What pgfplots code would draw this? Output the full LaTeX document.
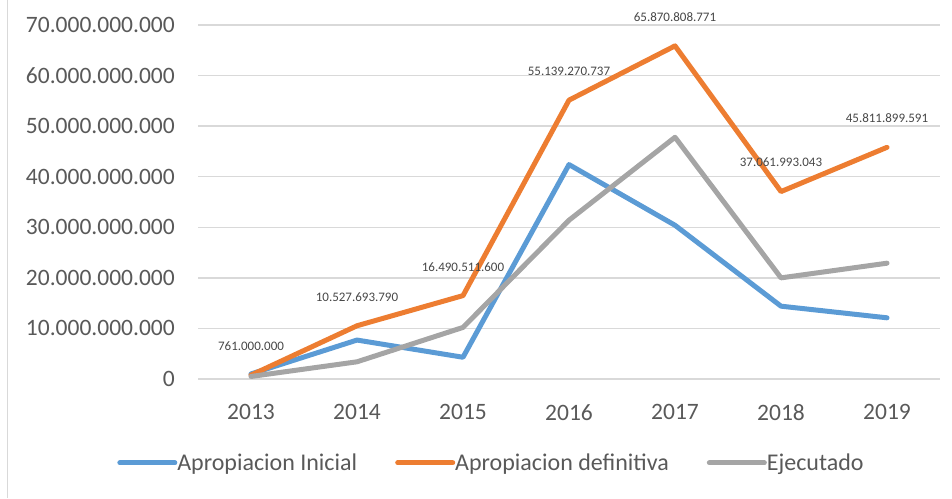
\documentclass[border=0pt]{standalone}
\usepackage{fontspec}
\setmainfont{Carlito}
\usepackage{pgfplots}
\pgfplotsset{compat=1.18}
\definecolor{cblue}{HTML}{5B9BD5}
\definecolor{corange}{HTML}{ED7D31}
\definecolor{cgray}{HTML}{A5A5A5}
\definecolor{ctext}{HTML}{595959}
\definecolor{cgrid}{HTML}{D9D9D9}
\begin{document}
\begin{tikzpicture}[x=1pt,y=1pt]
\path[use as bounding box] (0,0) rectangle (952,498);
\draw[cgrid, line width=1.5pt] (7.5,0) -- (7.5,498);
\begin{axis}[
    at={(198pt,119pt)}, anchor=south west,
    scale only axis,
    width=742pt, height=354pt,
    xmin=2012.5, xmax=2019.5,
    ymin=0, ymax=70000000000,
    xtick={2013,2014,2015,2016,2017,2018,2019},
    xticklabels={2013,2014,2015,2016,2017,2018,2019},
    ytick={0,10000000000,20000000000,30000000000,40000000000,50000000000,60000000000,70000000000},
    yticklabels={0,10.000.000.000,20.000.000.000,30.000.000.000,40.000.000.000,50.000.000.000,60.000.000.000,70.000.000.000},
    scaled y ticks=false,
    axis line style={draw=none},
    major tick length=0pt,
    ymajorgrids,
    grid style={cgrid, line width=1.5pt},
    tick label style={font=\fontsize{23.5}{28}\selectfont, text=ctext, inner sep=0pt},
    yticklabel style={anchor=east, xshift=-23pt},
    xticklabel style={anchor=north, yshift=-25pt},
    clip=false,
    legend columns=3,
    legend style={at={(-0.109,-0.237)}, anchor=west, draw=none, fill=none, inner sep=0pt,
        font=\fontsize{24}{28}\selectfont, text=ctext,
        /tikz/every even column/.append style={column sep=38pt},
        nodes={inner sep=0pt}},
    legend image code/.code={\draw[#1] (0pt,0pt) -- (55pt,0pt);},
    every axis plot/.append style={line width=5pt, line cap=round, line join=round},
]
\addplot[cblue] coordinates {
    (2013,1000000000) (2014,7700000000) (2015,4300000000) (2016,42400000000)
    (2017,30400000000) (2018,14400000000) (2019,12100000000)
};
\addlegendentry{Apropiacion Inicial}
\addplot[corange, point meta=explicit symbolic,
    nodes near coords,
    nodes near coords style={anchor=south, yshift=22pt, inner sep=0pt,
        font=\fontsize{13}{15}\selectfont, text=ctext!80!black}] coordinates {
    (2013,761000000) [761.000.000]
    (2014,10527693790) [10.527.693.790]
    (2015,16490511600) [16.490.511.600]
    (2016,55139270737) [55.139.270.737]
    (2017,65870808771) [65.870.808.771]
    (2018,37061993043) [37.061.993.043]
    (2019,45811899591) [45.811.899.591]
};
\addlegendentry{Apropiacion definitiva}
\addplot[cgray] coordinates {
    (2013,500000000) (2014,3400000000) (2015,10200000000) (2016,31400000000)
    (2017,47800000000) (2018,20000000000) (2019,22900000000)
};
\addlegendentry{Ejecutado}
\end{axis}
\end{tikzpicture}
\end{document}
